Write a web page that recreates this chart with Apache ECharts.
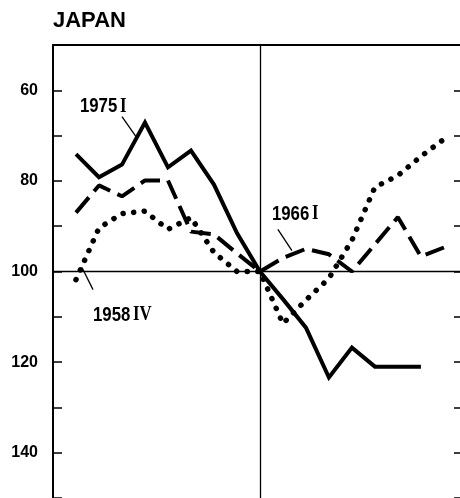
<!DOCTYPE html>
<html>
<head>
<meta charset="utf-8">
<script src="https://cdn.jsdelivr.net/npm/echarts@6/dist/echarts.min.js"></script>
<style>
  html, body { margin: 0; padding: 0; background: #fff; }
  #chart { width: 460px; height: 498px; }
</style>
</head>
<body>
<div id="chart"></div>
<script>
// quarters relative to the reference quarter (0 = index 100)
const quarters = [-8, -7, -6, -5, -4, -3, -2, -1, 0, 1, 2, 3, 4, 5, 6, 7, 8];
const cycle1975 = [74.1, 79.2, 76.4, 67.1, 77.0, 73.3, 80.8, 91.5, 100, 106.1, 112.4, 123.4, 116.8, 121, 121, 121];
const cycle1966 = [87.0, 81.0, 83.4, 79.9, 79.9, 91.2, 91.8, 96.0, 100, 97.0, 95.0, 96.2, 100, 94.0, 88.0, 96.7, 94.7];
const cycle1958 = [101.8, 90.4, 87.2, 86.7, 90.7, 88.1, 95.8, 100, 100, 111.5, 106.3, 101.5, 93.1, 81.4, 78.8, 74.6, 70.8];
const yLabels = [60, 80, 100, 120, 140];

// annotations: text top-left and leader line, in data units
const notes = [
  { num: '1975', roman: 'I', text: [-7.83, 61.2], from: [-6.0, 65.8], to: [-5.39, 70.2] },
  { num: '1966', roman: 'I', text: [0.52, 85.0], from: [0.78, 90.7], to: [1.39, 95.4] },
  { num: '1958', roman: 'IV', text: [-7.26, 107.3], from: [-7.74, 99.1], to: [-7.26, 104.0] }
];

const pairs = vals => vals.map((v, i) => [quarters[i], v]);

const chart = echarts.init(document.getElementById('chart'));

const yBase = {
  type: 'value',
  inverse: true,
  min: 50,
  max: 150,
  interval: 10,
  splitLine: { show: false }
};

chart.setOption({
  animation: false,
  backgroundColor: '#fff',
  grid: { left: 53, right: 0, top: 45, bottom: 0 },
  xAxis: {
    type: 'value',
    position: 'top',
    min: -9,
    max: 8.7,
    axisLine: { show: true, onZero: false, lineStyle: { color: '#000', width: 2 } },
    axisTick: { show: false },
    axisLabel: { show: false },
    splitLine: { show: false }
  },
  yAxis: [
    Object.assign({}, yBase, {
      position: 'left',
      axisLine: { show: true, onZero: false, lineStyle: { color: '#000', width: 2 } },
      axisTick: { show: true, inside: true, length: 9, lineStyle: { color: '#000', width: 1.5 } },
      axisLabel: {
        margin: 15,
        color: '#000',
        fontFamily: 'Liberation Sans',
        fontWeight: 'bold',
        fontSize: 16,
        formatter: v => yLabels.includes(v) ? String(v) : ''
      }
    }),
    Object.assign({}, yBase, {
      position: 'right',
      axisLine: { show: false, onZero: false },
      axisTick: { show: true, inside: true, length: 6, lineStyle: { color: '#000', width: 1.5 } },
      axisLabel: { show: false }
    })
  ],
  series: [
    {
      name: '1975 I',
      type: 'line',
      data: pairs(cycle1975),
      symbol: 'none',
      lineStyle: { color: '#000', width: 4, join: 'miter' },
      markLine: {
        silent: true,
        symbol: 'none',
        label: { show: false },
        lineStyle: { color: '#000', width: 1.3, type: 'solid' },
        data: [{ xAxis: 0 }, { yAxis: 100 }]
      },
      z: 3
    },
    {
      name: '1966 I',
      type: 'line',
      data: pairs(cycle1966),
      symbol: 'none',
      lineStyle: { color: '#000', width: 4, type: [20, 8] },
      z: 2
    },
    {
      name: '1958 IV',
      type: 'line',
      data: pairs(cycle1958),
      symbol: 'none',
      lineStyle: { color: '#000', width: 5.5, type: [0.1, 10.5], cap: 'round' },
      z: 2
    }
  ]
});

const px = p => chart.convertToPixel({ gridIndex: 0 }, p);
const graphics = [
  {
    type: 'text', left: 53, top: 10,
    style: { text: 'JAPAN', fill: '#000', font: 'bold 22px "Liberation Sans"' }
  }
];
notes.forEach(n => {
  const t = px(n.text), a = px(n.from), b = px(n.to);
  graphics.push({
    type: 'text', x: t[0], y: t[1], scaleX: 0.8,
    style: {
      text: '{n|' + n.num + '} {r|' + n.roman + '}',
      verticalAlign: 'top',
      rich: {
        n: { fill: '#000', font: 'bold 21px "Liberation Sans"' },
        r: { fill: '#000', font: 'bold 21px "Liberation Serif"' }
      }
    }
  });
  graphics.push({
    type: 'line',
    shape: { x1: a[0], y1: a[1], x2: b[0], y2: b[1] },
    style: { stroke: '#000', lineWidth: 1.3 }
  });
});
chart.setOption({ graphic: graphics });
</script>
</body>
</html>
